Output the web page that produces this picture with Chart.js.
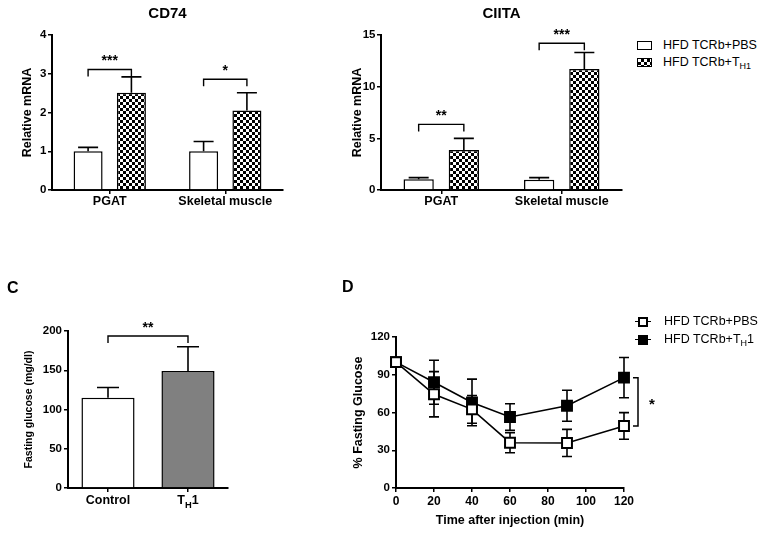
<!DOCTYPE html>
<html>
<head>
<meta charset="utf-8">
<script src="https://cdn.jsdelivr.net/npm/chart.js@4.4.1/dist/chart.umd.min.js"></script>
<style>
  body { margin: 0; background: #fff; width: 764px; height: 533px; position: relative; overflow: hidden;
         font-family: Arial, "Liberation Sans", sans-serif; color: #000; }
  canvas { position: absolute; }
  .letter { position: absolute; font-size: 16px; font-weight: bold; line-height: 16px; }
  .legend { position: absolute; font-size: 12.5px; color: #000; }
  .legend .row { height: 17px; line-height: 17px; white-space: nowrap; }
  .legend sub { font-size: 9px; vertical-align: -3px; line-height: 0; color: #000; }
  .swatch { display: inline-block; box-sizing: border-box; width: 15px; height: 9px; border: 1.5px solid #000;
            margin-right: 11px; vertical-align: -1px; background: #fff; }
  .checker { background: repeating-conic-gradient(#000 0 25%, #fff 0 50%) 0 0 / 6px 6px; }
  .mk { display: inline-block; position: relative; width: 16px; height: 18px; margin-right: 13px; vertical-align: middle; }
  .mk::before { content: ""; position: absolute; left: 0; right: 0; top: 8px; height: 1.5px; background: #000; }
  .mk i { position: absolute; left: 3px; top: 4px; width: 10px; height: 10px; box-sizing: border-box; border: 2px solid #000; background: #fff; }
  .mk i.fill { background: #000; }
</style>
</head>
<body>
<canvas id="cd74" width="300" height="215" style="left:0;top:0"></canvas>
<canvas id="ciita" width="330" height="215" style="left:300px;top:0"></canvas>
<canvas id="fasting" width="245" height="263" style="left:0;top:270px"></canvas>
<canvas id="itt" width="344" height="263" style="left:320px;top:270px"></canvas>

<div class="letter" style="left:7px;top:280px">C</div>
<div class="letter" style="left:342px;top:279px">D</div>

<div class="legend" style="left:637px;top:37px">
  <div class="row"><span class="swatch"></span>HFD TCRb+PBS</div>
  <div class="row"><span class="swatch checker"></span>HFD TCRb+T<sub>H1</sub></div>
</div>
<div class="legend" style="left:635px;top:312px">
  <div class="row" style="height:18px;line-height:18px"><span class="mk"><i></i></span>HFD TCRb+PBS</div>
  <div class="row" style="height:18px;line-height:18px"><span class="mk"><i class="fill"></i></span>HFD TCRb+T<sub>H</sub>1</div>
</div>

<script>
// ---- data ----
const tissues = ['PGAT', 'Skeletal muscle'];

const cd74Pbs = [1.0, 1.0];
const cd74PbsSem = [0.1, 0.25];
const cd74Th1 = [2.51, 2.05];
const cd74Th1Sem = [0.41, 0.46];
const cd74BracketY = [3.11, 2.86];
const cd74Stars = ['***', '*'];

const ciitaPbs = [1.03, 1.0];
const ciitaPbsSem = [0.17, 0.2];
const ciitaTh1 = [3.88, 11.7];
const ciitaTh1Sem = [1.12, 1.6];
const ciitaBracketY = [6.35, 14.2];
const ciitaStars = ['**', '***'];

const groups = ['Control', 'TH1'];
const glucose = [115, 149];
const glucoseSem = [13, 31];
const glucoseBracketY = 193.6;
const glucoseStars = '**';

const minutes = [0, 20, 40, 60, 90, 120];
const pbsPct = [100, 74.5, 62.5, 36, 35.8, 49.3];
const pbsPctSem = [0, 18, 11, 8, 10.8, 10.6];
const th1Pct = [100, 84, 68, 56.4, 65.4, 87.7];
const th1PctSem = [0, 17.5, 18.5, 10.5, 12.3, 16];

// ---- look ----
const FONT = 'Arial, "Liberation Sans", sans-serif';
Chart.defaults.font.family = FONT;
Chart.defaults.color = '#000';
Chart.defaults.animation = false;

function checkerPattern() {
  const c = document.createElement('canvas');
  c.width = 6; c.height = 6;
  const g = c.getContext('2d');
  g.fillStyle = '#fff'; g.fillRect(0, 0, 6, 6);
  g.fillStyle = '#000'; g.fillRect(0, 0, 3, 3); g.fillRect(3, 3, 3, 3);
  return g.createPattern(c, 'repeat');
}
const checker = checkerPattern();

// draw text with subscript pieces: parts = [[text, isSub], ...], centred on x
function drawParts(ctx, parts, x, y, size) {
  const fontOf = sub => 'bold ' + (sub ? size * 0.75 : size) + 'px ' + FONT;
  let total = 0;
  parts.forEach(p => { ctx.font = fontOf(p[1]); total += ctx.measureText(p[0]).width; });
  let cx = x - total / 2;
  ctx.textAlign = 'left';
  ctx.textBaseline = 'middle';
  parts.forEach(p => {
    ctx.font = fontOf(p[1]);
    ctx.fillText(p[0], cx, p[1] ? y + 4 : y);
    cx += ctx.measureText(p[0]).width;
  });
}

// error bars (up only), significance brackets, custom x labels
const barExtras = {
  id: 'barExtras',
  afterDatasetsDraw(chart, args, opts) {
    const ctx = chart.ctx;
    const ys = chart.scales.y;
    ctx.save();
    ctx.strokeStyle = '#000';
    ctx.fillStyle = '#000';
    ctx.lineWidth = 1.6;
    (opts.sems || []).forEach((sem, i) => {
      const meta = chart.getDatasetMeta(i);
      const vals = chart.data.datasets[i].data;
      meta.data.forEach((bar, j) => {
        const top = ys.getPixelForValue(vals[j] + sem[j]);
        ctx.beginPath();
        ctx.moveTo(bar.x, bar.y);
        ctx.lineTo(bar.x, top);
        ctx.moveTo(bar.x - opts.cap, top);
        ctx.lineTo(bar.x + opts.cap, top);
        ctx.stroke();
      });
    });
    (opts.brackets || []).forEach(b => {
      const x1 = chart.getDatasetMeta(b.a[0]).data[b.a[1]].x;
      const x2 = chart.getDatasetMeta(b.b[0]).data[b.b[1]].x;
      const y = ys.getPixelForValue(b.y);
      ctx.lineWidth = 1.4;
      ctx.beginPath();
      ctx.moveTo(x1, y + 7); ctx.lineTo(x1, y); ctx.lineTo(x2, y); ctx.lineTo(x2, y + 7);
      ctx.stroke();
      ctx.font = 'bold 14px ' + FONT;
      ctx.textAlign = 'center';
      ctx.textBaseline = 'middle';
      ctx.fillText(b.label, (x1 + x2) / 2, y - 8);
    });
    if (opts.xLabels) {
      const xs = chart.scales.x;
      opts.xLabels.forEach((parts, j) => {
        drawParts(ctx, parts, xs.getPixelForValue(j), xs.top + 13, 12.5);
      });
    }
    ctx.restore();
  }
};

// error bars both ways and the bracket on the time course
const lineExtras = {
  id: 'lineExtras',
  beforeDatasetsDraw(chart, args, opts) {
    const ctx = chart.ctx;
    const xs = chart.scales.x, ys = chart.scales.y;
    ctx.save();
    ctx.strokeStyle = '#000';
    ctx.lineWidth = 1.6;
    opts.sems.forEach((sem, i) => {
      const vals = chart.data.datasets[i].data;
      vals.forEach((p, j) => {
        if (!sem[j]) return;
        const x = xs.getPixelForValue(p.x);
        const hi = ys.getPixelForValue(p.y + sem[j]);
        const lo = ys.getPixelForValue(p.y - sem[j]);
        ctx.beginPath();
        ctx.moveTo(x, hi); ctx.lineTo(x, lo);
        ctx.moveTo(x - 5, hi); ctx.lineTo(x + 5, hi);
        ctx.moveTo(x - 5, lo); ctx.lineTo(x + 5, lo);
        ctx.stroke();
      });
    });
    ctx.restore();
  },
  afterDatasetsDraw(chart, args, opts) {
    const ctx = chart.ctx;
    const xs = chart.scales.x, ys = chart.scales.y;
    const last = minutes.length - 1;
    const x = xs.getPixelForValue(minutes[last]) + 14;
    const yTop = ys.getPixelForValue(th1Pct[last]);
    const yBot = ys.getPixelForValue(pbsPct[last]);
    ctx.save();
    ctx.strokeStyle = '#000';
    ctx.fillStyle = '#000';
    ctx.lineWidth = 1.5;
    ctx.beginPath();
    ctx.moveTo(x - 5, yTop); ctx.lineTo(x, yTop); ctx.lineTo(x, yBot); ctx.lineTo(x - 5, yBot);
    ctx.stroke();
    ctx.font = 'bold 15px ' + FONT;
    ctx.textAlign = 'center';
    ctx.textBaseline = 'middle';
    ctx.fillText(opts.label, x + 14, (yTop + yBot) / 2 + 3);
    ctx.restore();
  }
};

function axisX(height, extra) {
  return Object.assign({
    offset: true,
    border: { display: true, color: '#000', width: 2 },
    grid: { display: true, drawOnChartArea: false, drawTicks: true, tickLength: 4, offset: false, color: '#000', lineWidth: 1.5 },
    ticks: { font: { size: 12.5, weight: 'bold' }, padding: 0, maxRotation: 0, autoSkip: false },
    afterFit(s) { s.height = height; }
  }, extra || {});
}
function axisY(width, max, step, title, titleSize, titlePad, tickPad) {
  return {
    min: 0, max: max,
    border: { display: true, color: '#000', width: 2 },
    grid: { display: true, drawOnChartArea: false, drawTicks: true, tickLength: 4, color: '#000', lineWidth: 1.5 },
    ticks: { stepSize: step, font: { size: 11.5, weight: 'bold' }, padding: tickPad },
    title: { display: true, text: title, font: { size: titleSize, weight: 'bold' }, padding: { top: titlePad, bottom: 0 } },
    afterFit(s) { s.width = width; }
  };
}

function mrnaChart(id, title, pbs, pbsSem, th1, th1Sem, max, step, bracketY, stars, yWidth, titlePad, rightPad) {
  new Chart(document.getElementById(id), {
    type: 'bar',
    data: {
      labels: tissues,
      datasets: [
        { label: 'HFD TCRb+PBS', data: pbs, backgroundColor: '#fff', borderColor: '#000', borderWidth: 1.5 },
        { label: 'HFD TCRb+TH1', data: th1, backgroundColor: checker, borderColor: '#000', borderWidth: 1.5 }
      ]
    },
    options: {
      responsive: false,
      categoryPercentage: 0.75,
      barPercentage: 0.67,
      layout: { padding: { top: 0, left: 0, right: rightPad, bottom: 0 } },
      scales: {
        x: axisX(215 - 190),
        y: axisY(yWidth, max, step, 'Relative mRNA', 12.5, titlePad, 1.5)
      },
      plugins: {
        legend: { display: false },
        tooltip: { enabled: false },
        title: { display: true, text: title, fullSize: false, font: { size: 15, weight: 'bold' }, padding: { top: 5, bottom: 12 } },
        barExtras: {
          sems: [pbsSem, th1Sem],
          cap: 10,
          brackets: tissues.map((t, j) => ({ a: [0, j], b: [1, j], y: bracketY[j], label: stars[j] }))
        }
      }
    },
    plugins: [barExtras]
  });
}

mrnaChart('cd74', 'CD74', cd74Pbs, cd74PbsSem, cd74Th1, cd74Th1Sem, 4, 1, cd74BracketY, cd74Stars, 52, 20, 17);
mrnaChart('ciita', 'CIITA', ciitaPbs, ciitaPbsSem, ciitaTh1, ciitaTh1Sem, 15, 5, ciitaBracketY, ciitaStars, 81, 50, 8);

// panel C
new Chart(document.getElementById('fasting'), {
  type: 'bar',
  data: {
    labels: groups,
    datasets: [{ data: glucose, backgroundColor: ['#fff', '#808080'], borderColor: '#000', borderWidth: 1.5 }]
  },
  options: {
    responsive: false,
    categoryPercentage: 0.8,
    barPercentage: 0.83,
    layout: { padding: { top: 61, left: 0, right: 17, bottom: 0 } },
    scales: {
      x: axisX(263 - 218, { ticks: { display: false } }),
      y: axisY(68, 200, 50, 'Fasting glucose (mg/dl)', 10.5, 23, 2)
    },
    plugins: {
      legend: { display: false },
      tooltip: { enabled: false },
      barExtras: {
        sems: [glucoseSem],
        cap: 11,
        brackets: [{ a: [0, 0], b: [0, 1], y: glucoseBracketY, label: glucoseStars }],
        xLabels: [[['Control', false]], [['T', false], ['H', true], ['1', false]]]
      }
    }
  },
  plugins: [barExtras]
});

// panel D
const pointsOf = vals => minutes.map((m, j) => ({ x: m, y: vals[j] }));
new Chart(document.getElementById('itt'), {
  type: 'line',
  data: {
    datasets: [
      { label: 'HFD TCRb+PBS', data: pointsOf(pbsPct), borderColor: '#000', borderWidth: 1.6,
        pointStyle: 'rect', pointRadius: 7, pointBorderWidth: 2, pointBackgroundColor: '#fff', pointBorderColor: '#000', clip: false },
      { label: 'HFD TCRb+TH1', data: pointsOf(th1Pct), borderColor: '#000', borderWidth: 1.6,
        pointStyle: 'rect', pointRadius: 7, pointBorderWidth: 2, pointBackgroundColor: '#000', pointBorderColor: '#000', clip: false }
    ]
  },
  options: {
    responsive: false,
    layout: { padding: { top: 67, left: 0, right: 344 - 304, bottom: 0 } },
    scales: {
      x: {
        type: 'linear', min: 0, max: 120,
        border: { display: true, color: '#000', width: 2 },
        grid: { display: true, drawOnChartArea: false, drawTicks: true, tickLength: 4, color: '#000', lineWidth: 1.5 },
        ticks: { stepSize: 20, font: { size: 12, weight: 'bold' }, padding: 2, maxRotation: 0 },
        title: { display: true, text: 'Time after injection (min)', font: { size: 12.5, weight: 'bold' }, padding: { top: 0, bottom: 5 } },
        afterFit(s) { s.height = 263 - 218; }
      },
      y: axisY(76, 120, 30, '% Fasting Glucose', 12.5, 31, 2)
    },
    plugins: {
      legend: { display: false },
      tooltip: { enabled: false },
      lineExtras: { sems: [pbsPctSem, th1PctSem], label: '*' }
    }
  },
  plugins: [lineExtras]
});
</script>
</body>
</html>
